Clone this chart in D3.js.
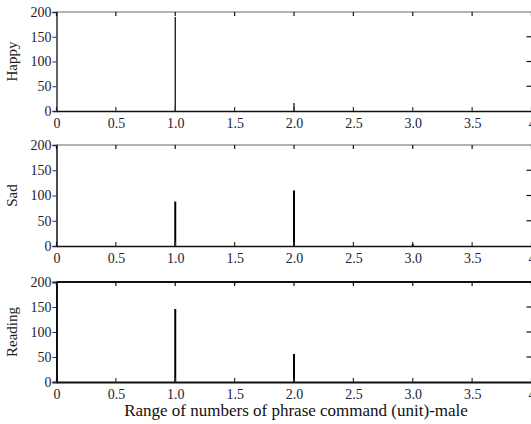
<!DOCTYPE html>
<html>
<head>
<meta charset="utf-8">
<script src="https://cdn.jsdelivr.net/npm/d3@7"></script>
<style>
  body { margin: 0; background: #fff; }
  svg { display: block; font-family: "Liberation Serif", "DejaVu Serif", serif; }
</style>
</head>
<body>
<svg id="chart" width="531" height="424"></svg>
<script>
// data
const panelNames = ["Happy", "Sad", "Reading"];
const happyX = [1.0, 2.0];
const happyY = [190, 16];
const sadX = [1.0, 2.0, 3.0];
const sadY = [88, 110, 4];
const readingX = [1.0, 2.0];
const readingY = [146, 56];
const xTicks = [0, 0.5, 1.0, 1.5, 2.0, 2.5, 3.0, 3.5, 4];
const yTicks = [0, 50, 100, 150, 200];
const xTitle = "Range of numbers of phrase command (unit)-male";

const series = [
  {name: panelNames[0], xs: happyX, ys: happyY, top: 12, bot: 111, barW: 1.2, topColor: "#999", lineW: 1.3},
  {name: panelNames[1], xs: sadX, ys: sadY, top: 145, bot: 246, barW: 2, topColor: "#999", lineW: 1.5},
  {name: panelNames[2], xs: readingX, ys: readingY, top: 282, bot: 382, barW: 2, topColor: "#111", lineW: 2}
];

const svg = d3.select("#chart");
const x = d3.scaleLinear().domain([0, 4]).range([56.5, 531.5]);
const fmt = d => (d === 0 || d === 4) ? String(d) : d.toFixed(1);

series.forEach(s => {
  const y = d3.scaleLinear().domain([0, 200]).range([s.bot, s.top]);
  const g = svg.append("g");

  // bars
  g.append("g")
    .selectAll("line")
    .data(s.xs.map((v, i) => ({x: v, y: s.ys[i]})))
    .join("line")
    .attr("x1", d => x(d.x)).attr("x2", d => x(d.x))
    .attr("y1", y(0)).attr("y2", d => y(d.y))
    .attr("stroke", "#000")
    .attr("stroke-width", s.barW);

  // bottom axis, inward ticks
  const bx = g.append("g")
    .attr("transform", `translate(0,${s.bot})`)
    .call(d3.axisBottom(x).tickValues(xTicks).tickFormat(fmt).tickSize(0).tickPadding(7));
  bx.select(".domain").attr("stroke", "#111").attr("stroke-width", s.lineW);
  bx.selectAll("text").attr("font-size", 14).attr("fill", "#223")
    .attr("font-family", "Liberation Serif");
  g.append("g").selectAll("line").data(xTicks).join("line")
    .attr("x1", d => x(d)).attr("x2", d => x(d))
    .attr("y1", s.bot).attr("y2", s.bot - 4)
    .attr("stroke", "#333").attr("stroke-width", 1.2);

  // top border with inward ticks
  g.append("line")
    .attr("x1", x(0)).attr("x2", x(4))
    .attr("y1", s.top).attr("y2", s.top)
    .attr("stroke", s.topColor).attr("stroke-width", s.lineW);
  g.append("g").selectAll("line").data(xTicks).join("line")
    .attr("x1", d => x(d)).attr("x2", d => x(d))
    .attr("y1", s.top).attr("y2", s.top + 4)
    .attr("stroke", "#111").attr("stroke-width", 1.2);

  // left axis
  const ly = g.append("g")
    .attr("transform", `translate(${x(0)},0)`)
    .call(d3.axisLeft(y).tickValues(yTicks).tickSize(4).tickPadding(1));
  ly.select(".domain").attr("stroke", "#111").attr("stroke-width", s.lineW);
  ly.selectAll(".tick line").attr("stroke", "#333");
  ly.selectAll("text").attr("font-size", 14).attr("fill", "#223")
    .attr("font-family", "Liberation Serif");

  // right side inward ticks
  g.append("g").selectAll("line").data(yTicks.slice(1, 4)).join("line")
    .attr("x1", x(4) - 5).attr("x2", x(4))
    .attr("y1", d => y(d)).attr("y2", d => y(d))
    .attr("stroke", "#111").attr("stroke-width", 1.2);

  // panel label
  g.append("text")
    .attr("transform", `translate(17,${(s.top + s.bot) / 2}) rotate(-90)`)
    .attr("text-anchor", "middle")
    .attr("font-size", 15)
    .attr("fill", "#222")
    .text(s.name);
});

svg.append("text")
  .attr("x", 296).attr("y", 416)
  .attr("text-anchor", "middle")
  .attr("font-size", 17)
  .attr("fill", "#111")
  .text(xTitle);
</script>
</body>
</html>
